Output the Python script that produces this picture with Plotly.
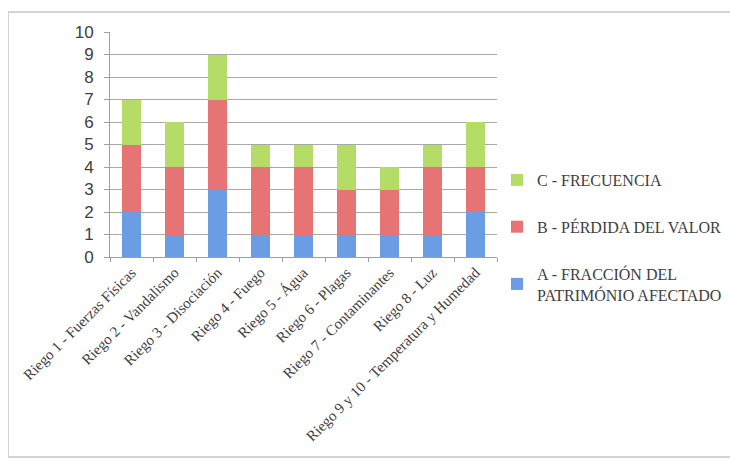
import plotly.graph_objects as go

categories = ["Riego 1 - Fuerzas Físicas", "Riego 2 - Vandalismo", "Riego 3 - Disociación",
              "Riego 4 - Fuego", "Riego 5 - Água", "Riego 6 - Plagas",
              "Riego 7 - Contaminantes", "Riego 8 - Luz", "Riego 9 y 10 - Temperatura y Humedad"]
serie_a = [2, 1, 3, 1, 1, 1, 1, 1, 2]
serie_b = [3, 3, 4, 3, 3, 2, 2, 3, 2]
serie_c = [2, 2, 2, 1, 1, 2, 1, 1, 2]
names = ["A - FRACCIÓN DEL<br>PATRIMÓNIO AFECTADO", "B - PÉRDIDA DEL VALOR", "C - FRECUENCIA"]
y_ticks = list(range(0, 11))

colors = ["#6a9de3", "#e77474", "#b6dc68"]
fig = go.Figure()
for i, (vals, nm) in enumerate(zip([serie_a, serie_b, serie_c], names)):
    fig.add_trace(go.Bar(x=categories, y=vals, name=nm, marker=dict(color=colors[i], line=dict(width=0)),
                         legendgroup=str(i), legendrank=3 - i))

OFF = 8  # page body margin
L, T = 110 - OFF, 32 - OFF
W, H = 738, 459
pw, ph = 387, 225
R = W - L - pw
B = H - T - ph

def px(x):
    return (x - OFF - L) / pw

def py(y):
    return (T + ph - (y - OFF)) / ph

fig.add_shape(type="rect", xref="paper", yref="paper", x0=px(8), x1=px(770), y0=py(457), y1=py(12),
              line=dict(color="#d4d4d4", width=2), fillcolor="rgba(0,0,0,0)", layer="below")

fig.update_layout(
    width=W, height=H, barmode="stack", bargap=0.57,
    margin=dict(l=L, r=R, t=T, b=B),
    paper_bgcolor="white", plot_bgcolor="white",
    font=dict(family="Liberation Serif", color="#404040"),
    legend=dict(x=px(497), xanchor="left", y=py(163), yanchor="top", traceorder="grouped",
                tracegroupgap=23, font=dict(family="Liberation Serif", size=16, color="#404040"),
                itemwidth=30, bgcolor="rgba(0,0,0,0)"),
    showlegend=True,
)
fig.update_xaxes(tickangle=-45, tickfont=dict(family="Liberation Serif", size=15, color="#404040"),
                 showline=True, linecolor="#a0a0a0", linewidth=1, ticks="outside", ticklen=4,
                 tickcolor="#a0a0a0", tickson="boundaries", showgrid=False)
fig.update_yaxes(range=[0, 10], tickvals=y_ticks, tickfont=dict(family="Liberation Sans", size=17, color="#404040"),
                 showline=True, linecolor="#a0a0a0", linewidth=1, ticks="outside", ticklen=5,
                 tickcolor="#a0a0a0", ticklabelstandoff=7, showgrid=True, gridcolor="#a8a8a8",
                 gridwidth=1, zeroline=False)

fig.write_html("out.html")
